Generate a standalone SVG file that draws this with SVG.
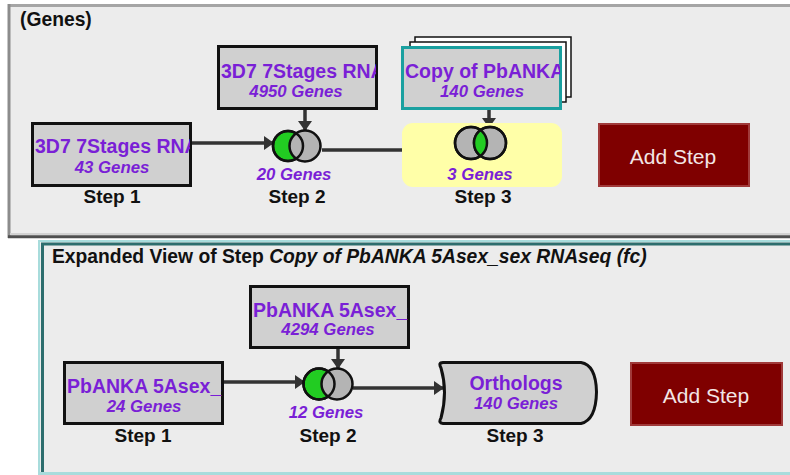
<svg xmlns="http://www.w3.org/2000/svg" width="790" height="475" viewBox="0 0 790 475">
<style>
.box{fill:#d0d0d0;stroke:#111;stroke-width:3}
.ttl{font-family:"Liberation Sans",Arial,sans-serif;font-weight:bold;font-size:19.5px;fill:#7a1fd6}
.cnt{font-family:"Liberation Sans",Arial,sans-serif;font-weight:bold;font-style:italic;font-size:16.8px;fill:#7a1fd6}
.step{font-family:"Liberation Sans",Arial,sans-serif;font-weight:bold;font-size:19px;fill:#111;text-anchor:middle}
.head{font-family:"Liberation Sans",Arial,sans-serif;font-weight:bold;font-size:19.3px;fill:#111}
.btn{fill:#7f0000;stroke:#a03a3a;stroke-width:2}
.btnt{font-family:"Liberation Sans",Arial,sans-serif;font-size:21px;fill:#f3e6e6;text-anchor:middle}
.conn{stroke:#333;stroke-width:3.5;fill:none}
.cg{fill:#22cc22;stroke:#111;stroke-width:2.5}
.cy{fill:#b4b4b4;stroke:#111;stroke-width:2.5}
.co{fill:none;stroke:#111;stroke-width:2.5}
.mid{text-anchor:middle}
</style>
<defs>
<marker id="ah" markerUnits="userSpaceOnUse" markerWidth="10" markerHeight="14" refX="9" refY="7" orient="auto">
<path d="M0,0 L10,7 L0,14 Z" fill="#333"/>
</marker>
<clipPath id="c1"><rect x="33" y="124" width="157" height="61"/></clipPath>
<clipPath id="c2"><rect x="219" y="47" width="157" height="61"/></clipPath>
<clipPath id="c3"><rect x="403" y="48" width="157" height="60"/></clipPath>
<clipPath id="c4"><rect x="65" y="363" width="157" height="60"/></clipPath>
<clipPath id="c5"><rect x="251" y="287" width="157" height="60"/></clipPath>
<clipPath id="v3"><circle cx="471" cy="143" r="16"/></clipPath>
</defs>
<rect width="790" height="475" fill="#ffffff"/>

<g id="panel-top">
<rect x="8" y="4" width="782" height="234" fill="#ececec"/>
<line x1="8" y1="5.5" x2="790" y2="5.5" stroke="#a5a5a5" stroke-width="3"/>
<line x1="9" y1="4" x2="9" y2="238" stroke="#8c8c8c" stroke-width="3"/>
<line x1="10" y1="234" x2="790" y2="234" stroke="#d2d2d2" stroke-width="2"/>
<line x1="8" y1="236.8" x2="790" y2="236.8" stroke="#4f4f4f" stroke-width="3"/>
<text class="head" x="20" y="26">(Genes)</text>
</g>

<g id="panel-bottom">
<rect x="38" y="240" width="752" height="235" fill="#ececec"/>
<line x1="38" y1="241" x2="790" y2="241" stroke="#a8dcdc" stroke-width="2"/>
<line x1="39" y1="240" x2="39" y2="475" stroke="#a8dcdc" stroke-width="2"/>
<line x1="41" y1="244" x2="790" y2="244" stroke="#2d6d6d" stroke-width="3"/>
<line x1="42.5" y1="243" x2="42.5" y2="472" stroke="#2d6d6d" stroke-width="3"/>
<line x1="38" y1="473.5" x2="790" y2="473.5" stroke="#a8dcdc" stroke-width="3"/>
<text class="head" x="52" y="263">Expanded View of Step <tspan font-style="italic">Copy of PbANKA 5Asex_sex RNAseq (fc)</tspan></text>
</g>

<g id="connectors">
<line class="conn" x1="191" y1="143" x2="273" y2="143" marker-end="url(#ah)"/>
<line class="conn" x1="305" y1="109" x2="305" y2="130" marker-end="url(#ah)"/>
<line class="conn" x1="322" y1="150" x2="455" y2="150" marker-end="url(#ah)"/>
<line class="conn" x1="489" y1="109" x2="489" y2="127" marker-end="url(#ah)"/>
<line class="conn" x1="223" y1="382" x2="304" y2="382" marker-end="url(#ah)"/>
<line class="conn" x1="338" y1="348" x2="338" y2="368" marker-end="url(#ah)"/>
<line class="conn" x1="353" y1="388" x2="443" y2="388" marker-end="url(#ah)"/>
</g>

<g id="top-step1">
<rect class="box" x="32.5" y="123.5" width="158" height="62"/>
<g clip-path="url(#c1)">
<text class="ttl" x="35" y="153">3D7 7Stages RNAseq</text>
</g>
<text class="cnt mid" x="112" y="173">43 Genes</text>
<text class="step" x="112" y="203">Step 1</text>
</g>

<g id="top-step2-input">
<rect class="box" x="218.5" y="46.5" width="158" height="62"/>
<g clip-path="url(#c2)">
<text class="ttl" x="221" y="78">3D7 7Stages RNAseq</text>
</g>
<text class="cnt mid" x="296" y="97">4950 Genes</text>
</g>

<g id="top-step2">
<circle class="cg" cx="288" cy="146" r="15"/>
<circle class="cy" cx="305" cy="146" r="15.5"/>
<circle class="co" cx="288" cy="146" r="15"/>
<text class="cnt mid" x="294" y="180">20 Genes</text>
<text class="step" x="297" y="203">Step 2</text>
</g>

<g id="top-step3-input">
<rect x="415" y="37" width="156" height="60" fill="#fff" stroke="#111" stroke-width="1.5"/>
<rect x="410" y="42" width="156" height="60" fill="#fff" stroke="#111" stroke-width="1.5"/>
<rect x="402.5" y="47.5" width="158" height="61" fill="#d0d0d0" stroke="#1aa0a0" stroke-width="3"/>
<g clip-path="url(#c3)">
<text class="ttl" x="405" y="78">Copy of PbANKA 5Asex_sex RNAseq (fc)</text>
</g>
<text class="cnt mid" x="482" y="97">140 Genes</text>
</g>

<g id="top-step3">
<rect x="402" y="123" width="160" height="64" rx="11" fill="#ffffa8"/>
<circle class="cy" cx="471" cy="143" r="16"/>
<circle class="cy" cx="490" cy="143" r="16"/>
<circle cx="490" cy="143" r="16" fill="#22cc22" clip-path="url(#v3)"/>
<circle class="co" cx="471" cy="143" r="16"/>
<circle class="co" cx="490" cy="143" r="16"/>
<text class="cnt mid" x="480" y="180">3 Genes</text>
<text class="step" x="483" y="203">Step 3</text>
</g>

<g id="top-add-step">
<rect class="btn" x="599" y="124" width="150" height="62"/>
<text class="btnt" x="673" y="164">Add Step</text>
</g>

<g id="bottom-step1">
<rect class="box" x="64.5" y="362.5" width="158" height="61"/>
<g clip-path="url(#c4)">
<text class="ttl" x="67" y="393">PbANKA 5Asex_sex RNAseq</text>
</g>
<text class="cnt mid" x="144" y="412">24 Genes</text>
<text class="step" x="143" y="442">Step 1</text>
</g>

<g id="bottom-step2-input">
<rect class="box" x="250.5" y="286.5" width="158" height="61"/>
<g clip-path="url(#c5)">
<text class="ttl" x="253" y="317">PbANKA 5Asex_sex RNAseq</text>
</g>
<text class="cnt mid" x="328" y="335">4294 Genes</text>
</g>

<g id="bottom-step2">
<circle class="cg" cx="319" cy="384" r="15.5"/>
<circle class="cy" cx="337" cy="384" r="15.5"/>
<circle class="co" cx="319" cy="384" r="15.5"/>
<text class="cnt mid" x="326" y="418">12 Genes</text>
<text class="step" x="328" y="442">Step 2</text>
</g>

<g id="bottom-step3">
<path d="M443,362.5 L581,362.5 Q596,365 596.5,392 Q596,420 581,423.5 L443,423.5 Q438,423 441,418 Q448,392 441,368 Q438,362.5 443,362.5 Z" fill="#d0d0d0" stroke="#111" stroke-width="3"/>
<text class="ttl mid" x="516" y="390">Orthologs</text>
<text class="cnt mid" x="516" y="409">140 Genes</text>
<text class="step" x="515" y="442">Step 3</text>
</g>

<g id="bottom-add-step">
<rect class="btn" x="631" y="363" width="151" height="62"/>
<text class="btnt" x="706" y="403">Add Step</text>
</g>
</svg>
